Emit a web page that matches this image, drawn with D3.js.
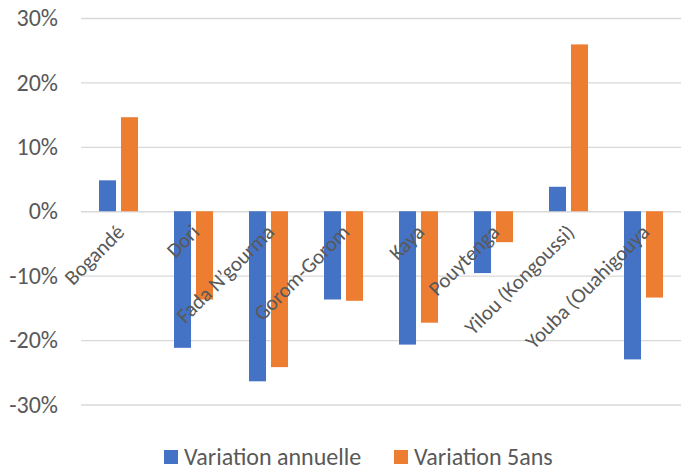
<!DOCTYPE html>
<html><head><meta charset="utf-8">
<script src="https://cdn.jsdelivr.net/npm/d3@7"></script>
<style>body{margin:0;background:#fff}svg{display:block}text{font-family:Carlito,Calibri,"Open Sans","Liberation Sans",sans-serif;fill:#595959}</style>
</head><body><svg id="c" width="684" height="471"></svg>
<script>
const categories = ["Bogandé","Dori","Fada N’gourma","Gorom-Gorom","Kaya","Pouytenga","Yilou (Kongoussi)","Youba (Ouahigouya"];
const seriesNames = ["Variation annuelle","Variation 5ans"];
const annuelle = [0.048,-0.212,-0.264,-0.137,-0.207,-0.096,0.038,-0.230];
const cinqAns = [0.146,-0.137,-0.242,-0.139,-0.173,-0.048,0.259,-0.134];
const yTicks = [0.3,0.2,0.1,0,-0.1,-0.2,-0.3];
const colors = ["#4472C4","#ED7D31"];

const svg = d3.select("#c");
const x = d3.scaleBand().domain(categories).range([81,681]);
const y = d3.scaleLinear().domain([-0.3,0.3]).range([404.5,18]);
const bw = x.bandwidth();
const barW = bw*0.227, gap = bw*0.066, off = (bw - 2*barW - gap)/2;

const fmt = d => Math.round(d*100) + "%";
const yAxis = d3.axisLeft(y).tickValues(yTicks).tickSize(-600).tickFormat(fmt);
const ga = svg.append("g").attr("transform","translate(81,0)").call(yAxis);
ga.select(".domain").remove();
ga.selectAll(".tick line").attr("stroke","#D9D9D9").attr("stroke-width",1.3);
ga.selectAll(".tick text").attr("x",-23).style("font-size","24px").attr("fill","#595959");

const data = [annuelle,cinqAns];
data.forEach((vals,si)=>{
  svg.append("g").selectAll("rect").data(vals).join("rect")
    .attr("x",(d,i)=>x(categories[i])+off+si*(barW+gap))
    .attr("width",barW)
    .attr("y",d=>y(Math.max(0,d)))
    .attr("height",d=>Math.abs(y(d)-y(0)))
    .attr("fill",colors[si]);
});

svg.append("g").selectAll("text").data(categories).join("text")
  .attr("transform",d=>`translate(${x(d)+bw/2+2},${y(0)+17}) rotate(-45)`)
  .attr("text-anchor","end")
  .attr("dy","0.35em")
  .style("font-size","21px")
  .text(d=>d);

const leg = svg.append("g");
const legX = [164,394];
seriesNames.forEach((n,i)=>{
  leg.append("rect").attr("x",legX[i]).attr("y",450).attr("width",14).attr("height",14).attr("fill",colors[i]);
  leg.append("text").attr("x",legX[i]+20).attr("y",457).attr("dy","0.35em").style("font-size","24px").text(n);
});
</script></body></html>
